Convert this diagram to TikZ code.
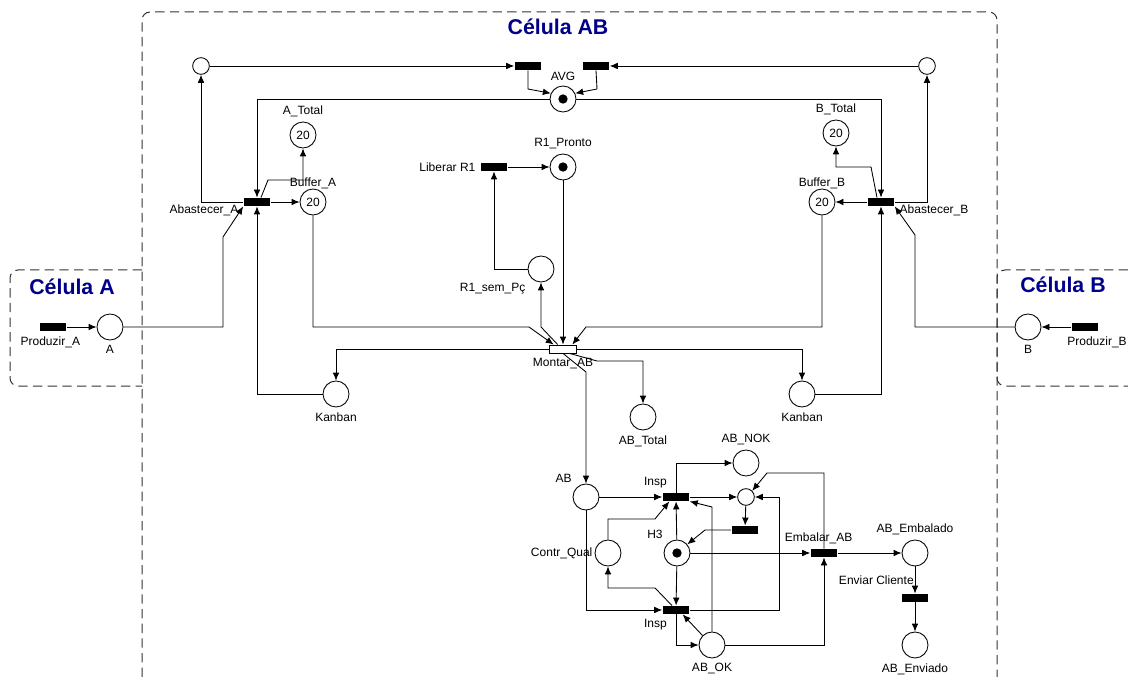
\documentclass[tikz,border=0pt]{standalone}
\usepackage{fontspec}
\setmainfont{Liberation Sans}
\usetikzlibrary{arrows.meta}
\definecolor{cellblue}{RGB}{0,0,139}
\definecolor{boxgray}{RGB}{50,50,50}

\begin{document}
\begin{tikzpicture}
    [x=0.75pt, y=-0.75pt,
    line width=0.65pt,
    font=\fontsize{9}{10}\selectfont,
    place/.style={circle, draw, fill=white, minimum size=19.5pt, inner sep=0pt},
    small/.style={circle, draw, fill=white, minimum size=12.5pt, inner sep=0pt},
    trans/.style={rectangle, fill=black, minimum width=20pt, minimum height=6pt, inner sep=0pt},
    arc/.style={-{Latex[length=6pt,width=5pt]}},
    cell/.style={draw=boxgray, line width=0.75pt, dash pattern=on 7pt off 4pt, rounded corners=6pt},
    title/.style={font=\fontsize{16}{18}\bfseries\selectfont, text=cellblue}]
        \useasboundingbox (0,0) rectangle (1128,677);
        %% Cells
        \draw[cell] (142,677) -- (142,12) -- (997,12) -- (997,677);
        \draw[cell] (142,270) -- (10,270) -- (10,386) -- (142,386);
        \draw[cell] (1128,270) -- (997,270) -- (997,386) -- (1128,386);
        \node[title] (cAB) at (558,27) {Célula AB};
        \node[title] (cA) at (72,287) {Célula A};
        \node[title] (cB) at (1063,285) {Célula B};

        %% Places
        \node[place, label=below:A] (pA) at (110,327) {};
        \node[place, label=below:B] (pB) at (1028,327) {};
        \node[place, label=above:A\_Total] (pATot) at (303,135) {20};
        \node[place, label={[label distance=-4pt]above:Buffer\_A}] (pBufA) at (313,202) {20};
        \node[place, label=above:B\_Total] (pBTot) at (836,133) {20};
        \node[place, label={[label distance=-4pt]above:Buffer\_B}] (pBufB) at (822,202) {20};
        \node[small] (pAvgL) at (201,66) {};
        \node[small] (pAvgR) at (927,66) {};
        \node[place, label=above:AVG] (pAVG) at (563,99) {};
        \node[place, label=above:R1\_Pronto] (pR1P) at (563,167) {};
        \node[place, label={[xshift=-1pt]below left:R1\_sem\_Pç}] (pR1S) at (541,269) {};
        \node[place, label=below:Kanban] (pKanA) at (336,394) {};
        \node[place, label=below:Kanban] (pKanB) at (802,394) {};
        \node[place, label=below:AB\_Total] (pABTot) at (643,417) {};
        \node[place, label=above left:AB] (pAB) at (586,497) {};
        \node[place, label=above:AB\_NOK] (pNOK) at (746,463) {};
        \node[small] (pAux) at (746,497) {};
        \node[place, label=above left:H3] (pH3) at (677,553) {};
        \node[place, label={[xshift=2pt]left:Contr\_Qual}] (pCQ) at (608,553) {};
        \node[place, label=below:AB\_OK] (pOK) at (712,645) {};
        \node[place, label=above:AB\_Embalado] (pEmb) at (915,553) {};
        \node[place, label=below:AB\_Enviado] (pEnv) at (915,645) {};
        %% Tokens
        \foreach \p in {pAVG, pR1P, pH3}
            \fill (\p) circle (3.5pt);

        %% Transitions
        \node[trans, label={[xshift=-2pt]below:Produzir\_A}] (tProdA) at (53,327) {};
        \node[trans, label={[xshift=9pt]below:Produzir\_B}] (tProdB) at (1085,327) {};
        \node[trans, label={[yshift=-6.5pt]left:Abastecer\_A}] (tAbastA) at (257,202) {};
        \node[trans, label={[yshift=-6.5pt]right:Abastecer\_B}] (tAbastB) at (881,202) {};
        \node[trans] (tAvgL) at (528,66) {};
        \node[trans] (tAvgR) at (596,66) {};
        \node[trans, label=left:Liberar R1] (tLib) at (494,167) {};
        \node[trans, fill=white, draw, line width=0.65pt, label=below:Montar\_AB] (tMont) at (563,349) {};
        \node[trans, label=above left:Insp] (tInspT) at (676,497) {};
        \node[trans, label=below left:Insp] (tInspB) at (676,610) {};
        \node[trans] (tAux) at (745,530) {};
        \node[trans, label={[xshift=-4pt]above:Embalar\_AB}] (tEmb) at (824,553) {};
        \node[trans, label={[xshift=6pt, yshift=3pt]above left:Enviar Cliente}] (tEnv) at (915,598) {};

        %% Arcs, cell A side
        \draw[arc] (tProdA) -- (pA);
        \draw[arc] (pA.east) -| (223,237) -- (tAbastA.south west);
        \draw[arc] (pKanA.west) -| (tAbastA.south);
        \draw[arc] (tAbastA) -- (pBufA);
        \draw[arc] ([xshift=3pt]tAbastA.north) -- (268,180) -| (pATot);
        \draw[arc] (pAVG.west) -| (tAbastA.north);
        \draw[arc] (tAbastA.west) -| (pAvgL);
        \draw[arc] (pAvgL) -- (tAvgL);
        \draw[arc] (tAvgL.south) -- (528,89) -- (pAVG.155);

        %% Arcs, cell B side
        \draw[arc] (tProdB) -- (pB);
        \draw[arc] (pB.west) -| (915,235) -- (tAbastB.south east);
        \draw[arc] (pKanB.east) -| (tAbastB.south);
        \draw[arc] (tAbastB) -- (pBufB);
        \draw[arc] ([xshift=-3pt]tAbastB.north) -- (871,167) -| (pBTot);
        \draw[arc] (pAVG.east) -| (tAbastB.north);
        \draw[arc] (tAbastB.east) -| (pAvgR);
        \draw[arc] (pAvgR) -- (tAvgR);
        \draw[arc] (tAvgR.south) -- (597,89) -- (pAVG.25);

        %% Assembly
        \draw[arc] (tLib) -- (pR1P);
        \draw[arc] (pR1S.west) -| (tLib.south);
        \draw[arc] (pR1P) -- (tMont);
        \draw[arc] ([xshift=-4pt]tMont.north) -- (541,327) -- (pR1S.south);
        \draw[arc] (pBufA.south) |- (529,327) -- ([xshift=-7pt]tMont.north);
        \draw[arc] (pBufB.south) |- (586,327) -- ([xshift=7pt]tMont.north);
        \draw[arc] (tMont.west) -| (pKanA.north);
        \draw[arc] (tMont.east) -| (pKanB.north);
        \draw[arc] ([xshift=5pt]tMont.south) -- (597,361) -| (pABTot.north);
        \draw[arc] (tMont.south) -- (586,372) -- (pAB.north);

        %% Inspection
        \draw[arc] (pAB) -- (tInspT);
        \draw[arc] (pAB.south) |- (tInspB.west);
        \draw[arc] (tInspT.north) |- (pNOK.west);
        \draw[arc] (tInspT) -- (pAux);
        \draw[arc] (pAux) -- (tAux);
        \draw[arc] (tAux.west) -- (705,530) -- (pH3.40);
        \draw[arc] (pH3) -- (tInspT);
        \draw[arc] (pH3) -- (tInspB);
        \draw[arc] (pH3) -- (tEmb);
        \draw[arc] (tInspB.east) -| (779,497) -- (pAux.east);
        \draw[arc] (tEmb.north) |- (767,473) -- (pAux.north east);
        \draw[arc] (pCQ.north) |- (655,519) -- ([xshift=-5pt]tInspT.south);
        \draw[arc] ([xshift=-3pt]tInspB.north) -- (655,588) -| (pCQ.south);
        \draw[arc] (pOK.north) -- (712,507) -- (tInspT.south east);
        \draw[arc] (tInspB.south) |- (pOK.west);
        \draw[arc] (pOK.north west) -- ([xshift=5pt]tInspB.south);
        \draw[arc] (pOK.east) -| (tEmb.south);
        \draw[arc] (tEmb) -- (pEmb);
        \draw[arc] (pEmb) -- (tEnv);
        \draw[arc] (tEnv) -- (pEnv);
    \end{tikzpicture}
\end{document}
